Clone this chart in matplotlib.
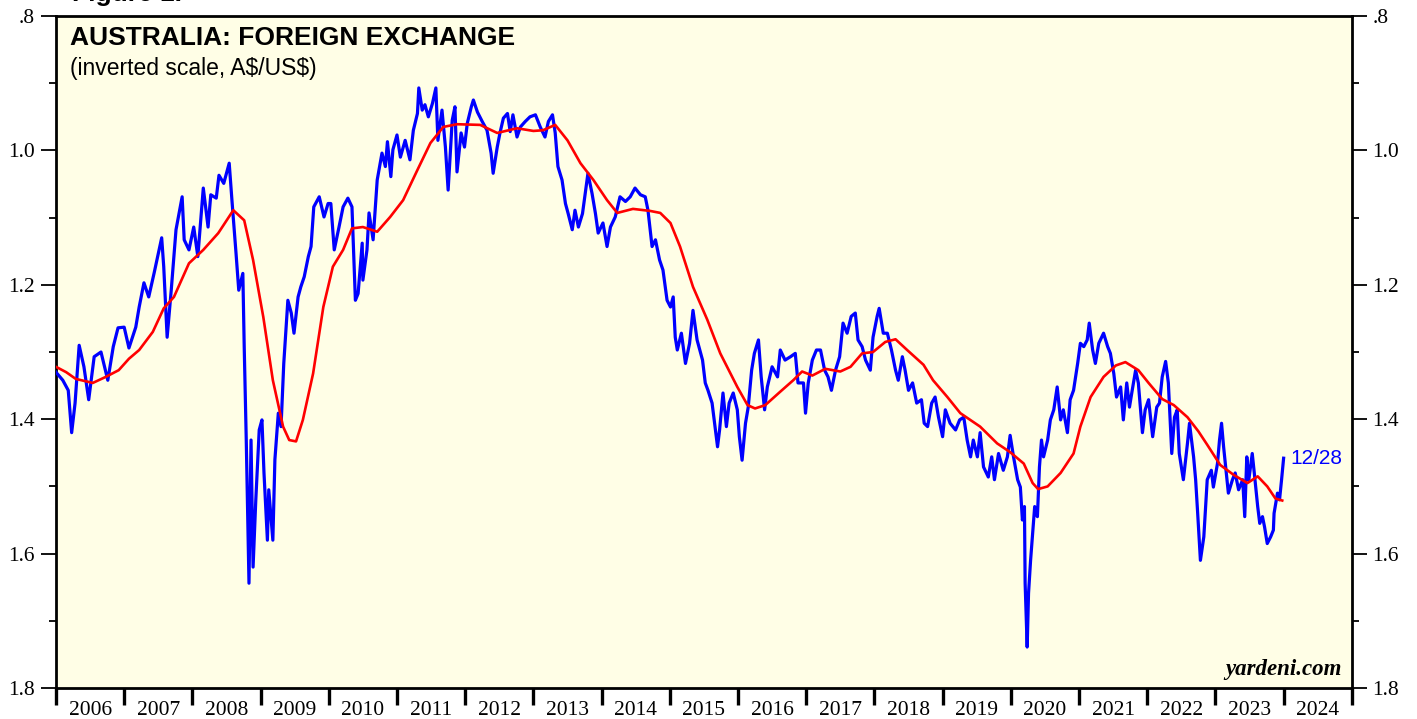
import matplotlib
matplotlib.use("Agg")
import matplotlib.pyplot as plt
from matplotlib.ticker import FixedLocator, NullFormatter

# A$/US$ daily rate, decimal years
fx_dates = [
    2006.00, 2006.10, 2006.18, 2006.23, 2006.28, 2006.34, 2006.41, 2006.48, 2006.56, 2006.66,
    2006.76, 2006.84, 2006.91, 2007.00, 2007.07, 2007.17, 2007.22, 2007.29, 2007.36, 2007.44,
    2007.55, 2007.58, 2007.63, 2007.69, 2007.76, 2007.85, 2007.88, 2007.95, 2008.02, 2008.08,
    2008.16, 2008.23, 2008.27, 2008.35, 2008.39, 2008.46, 2008.54, 2008.58, 2008.64, 2008.68,
    2008.74, 2008.76, 2008.79, 2008.83, 2008.86, 2008.89, 2008.93, 2008.98, 2009.02, 2009.05,
    2009.10, 2009.12, 2009.18, 2009.21, 2009.26, 2009.30, 2009.34, 2009.40, 2009.45, 2009.49,
    2009.55, 2009.59, 2009.64, 2009.70, 2009.74, 2009.78, 2009.86, 2009.93, 2009.99, 2010.03,
    2010.08, 2010.15, 2010.21, 2010.28, 2010.34, 2010.39, 2010.43, 2010.49, 2010.50, 2010.56,
    2010.59, 2010.65, 2010.71, 2010.78, 2010.83, 2010.86, 2010.91, 2010.94, 2011.00, 2011.05,
    2011.12, 2011.19, 2011.24, 2011.30, 2011.32, 2011.37, 2011.41, 2011.46, 2011.52, 2011.57,
    2011.60, 2011.66, 2011.71, 2011.75, 2011.81, 2011.85, 2011.88, 2011.94, 2011.99, 2012.03,
    2012.09, 2012.12, 2012.18, 2012.25, 2012.32, 2012.38, 2012.41, 2012.47, 2012.51, 2012.56,
    2012.62, 2012.66, 2012.70, 2012.76, 2012.81, 2012.88, 2012.95, 2013.03, 2013.10, 2013.17,
    2013.22, 2013.28, 2013.32, 2013.36, 2013.42, 2013.47, 2013.51, 2013.57, 2013.61, 2013.66,
    2013.72, 2013.76, 2013.80, 2013.86, 2013.91, 2013.95, 2014.02, 2014.08, 2014.13, 2014.20,
    2014.27, 2014.35, 2014.42, 2014.49, 2014.57, 2014.64, 2014.68, 2014.74, 2014.79, 2014.85,
    2014.90, 2014.96, 2015.01, 2015.05, 2015.08, 2015.11, 2015.17, 2015.23, 2015.29, 2015.34,
    2015.40, 2015.48, 2015.52, 2015.56, 2015.62, 2015.67, 2015.70, 2015.73, 2015.78, 2015.83,
    2015.87, 2015.93, 2015.99, 2016.02, 2016.06, 2016.11, 2016.15, 2016.20, 2016.24, 2016.30,
    2016.34, 2016.39, 2016.43, 2016.50, 2016.58, 2016.62, 2016.69, 2016.77, 2016.84, 2016.88,
    2016.96, 2016.99, 2017.03, 2017.09, 2017.15, 2017.21, 2017.27, 2017.32, 2017.37, 2017.43,
    2017.49, 2017.54, 2017.60, 2017.66, 2017.72, 2017.76, 2017.82, 2017.87, 2017.94, 2017.98,
    2018.04, 2018.07, 2018.13, 2018.19, 2018.25, 2018.31, 2018.35, 2018.41, 2018.45, 2018.50,
    2018.56, 2018.62, 2018.69, 2018.73, 2018.78, 2018.84, 2018.89, 2018.94, 2019.00, 2019.04,
    2019.11, 2019.19, 2019.25, 2019.31, 2019.36, 2019.41, 2019.45, 2019.51, 2019.55, 2019.60,
    2019.67, 2019.72, 2019.76, 2019.82, 2019.89, 2019.95, 2019.99, 2020.04, 2020.10, 2020.14,
    2020.17, 2020.20, 2020.21, 2020.24, 2020.26, 2020.29, 2020.32, 2020.35, 2020.39, 2020.42,
    2020.45, 2020.48, 2020.54, 2020.58, 2020.63, 2020.68, 2020.73, 2020.77, 2020.83, 2020.87,
    2020.92, 2020.98, 2021.02, 2021.07, 2021.12, 2021.15, 2021.20, 2021.24, 2021.29, 2021.36,
    2021.42, 2021.46, 2021.51, 2021.55, 2021.61, 2021.65, 2021.70, 2021.74, 2021.78, 2021.83,
    2021.87, 2021.93, 2021.97, 2022.02, 2022.08, 2022.14, 2022.18, 2022.22, 2022.27, 2022.31,
    2022.36, 2022.40, 2022.44, 2022.47, 2022.53, 2022.59, 2022.62, 2022.68, 2022.71, 2022.74,
    2022.78, 2022.83, 2022.85, 2022.88, 2022.94, 2022.97, 2023.03, 2023.06, 2023.09, 2023.12,
    2023.16, 2023.19, 2023.25, 2023.29, 2023.34, 2023.40, 2023.43, 2023.46, 2023.49, 2023.54,
    2023.57, 2023.62, 2023.65, 2023.69, 2023.72, 2023.76, 2023.81, 2023.85, 2023.86, 2023.91,
    2023.94, 2023.97, 2024.00,
]
fx_rate = [
    1.330, 1.342, 1.357, 1.420, 1.376, 1.290, 1.322, 1.371, 1.307, 1.300,
    1.342, 1.292, 1.264, 1.263, 1.294, 1.263, 1.233, 1.197, 1.218, 1.182,
    1.130, 1.173, 1.278, 1.208, 1.118, 1.069, 1.133, 1.148, 1.114, 1.158,
    1.056, 1.114, 1.066, 1.071, 1.037, 1.049, 1.019, 1.074, 1.153, 1.208,
    1.183, 1.292, 1.431, 1.644, 1.431, 1.620, 1.520, 1.416, 1.401, 1.480,
    1.580, 1.505, 1.580, 1.460, 1.391, 1.411, 1.317, 1.223, 1.242, 1.272,
    1.218, 1.203, 1.188, 1.158, 1.143, 1.084, 1.069, 1.099, 1.079, 1.079,
    1.148, 1.114, 1.084, 1.071, 1.084, 1.223, 1.213, 1.138, 1.193, 1.148,
    1.093, 1.133, 1.044, 1.004, 1.024, 0.987, 1.039, 0.999, 0.977, 1.010,
    0.985, 1.014, 0.970, 0.945, 0.907, 0.940, 0.932, 0.950, 0.930, 0.907,
    0.985, 0.940, 0.995, 1.059, 0.955, 0.935, 1.032, 0.974, 0.995, 0.960,
    0.935, 0.925, 0.943, 0.957, 0.970, 1.004, 1.034, 0.995, 0.974, 0.952,
    0.945, 0.972, 0.947, 0.980, 0.965, 0.957, 0.950, 0.947, 0.965, 0.980,
    0.957, 0.947, 0.974, 1.024, 1.044, 1.079, 1.094, 1.118, 1.089, 1.114,
    1.094, 1.064, 1.034, 1.064, 1.094, 1.123, 1.108, 1.143, 1.114, 1.099,
    1.069, 1.076, 1.069, 1.056, 1.066, 1.069, 1.089, 1.143, 1.133, 1.163,
    1.178, 1.223, 1.233, 1.218, 1.278, 1.297, 1.272, 1.317, 1.287, 1.238,
    1.282, 1.312, 1.346, 1.357, 1.376, 1.416, 1.441, 1.416, 1.361, 1.411,
    1.376, 1.361, 1.386, 1.426, 1.461, 1.406, 1.382, 1.327, 1.302, 1.282,
    1.337, 1.386, 1.352, 1.322, 1.337, 1.297, 1.312, 1.307, 1.302, 1.346,
    1.346, 1.391, 1.346, 1.312, 1.297, 1.297, 1.327, 1.337, 1.357, 1.327,
    1.307, 1.257, 1.272, 1.247, 1.242, 1.282, 1.292, 1.312, 1.327, 1.278,
    1.247, 1.235, 1.272, 1.272, 1.297, 1.327, 1.342, 1.307, 1.327, 1.357,
    1.346, 1.376, 1.371, 1.406, 1.411, 1.376, 1.367, 1.397, 1.426, 1.386,
    1.406, 1.416, 1.401, 1.397, 1.431, 1.456, 1.431, 1.456, 1.420, 1.471,
    1.486, 1.456, 1.490, 1.451, 1.476, 1.456, 1.424, 1.456, 1.490, 1.501,
    1.550, 1.530, 1.644, 1.739, 1.659, 1.610, 1.570, 1.530, 1.545, 1.471,
    1.431, 1.456, 1.431, 1.401, 1.386, 1.352, 1.401, 1.386, 1.420, 1.371,
    1.357, 1.317, 1.287, 1.292, 1.282, 1.257, 1.297, 1.317, 1.287, 1.272,
    1.292, 1.302, 1.332, 1.367, 1.352, 1.401, 1.346, 1.382, 1.357, 1.327,
    1.346, 1.420, 1.386, 1.371, 1.426, 1.382, 1.376, 1.337, 1.314, 1.346,
    1.451, 1.397, 1.386, 1.451, 1.490, 1.436, 1.406, 1.456, 1.490, 1.540,
    1.610, 1.575, 1.540, 1.490, 1.476, 1.501, 1.466, 1.431, 1.406, 1.441,
    1.480, 1.510, 1.490, 1.480, 1.505, 1.490, 1.545, 1.456, 1.490, 1.451,
    1.480, 1.530, 1.555, 1.545, 1.560, 1.585, 1.575, 1.565, 1.540, 1.510,
    1.520, 1.490, 1.458,
]

# moving average (red line)
ma_dates = [
    2006.00, 2006.15, 2006.29, 2006.54, 2006.73, 2006.92, 2007.07, 2007.22, 2007.42, 2007.58,
    2007.73, 2007.95, 2008.16, 2008.38, 2008.60, 2008.76, 2008.89, 2009.04, 2009.18, 2009.33,
    2009.42, 2009.52, 2009.62, 2009.77, 2009.92, 2010.06, 2010.21, 2010.34, 2010.50, 2010.71,
    2010.90, 2011.09, 2011.30, 2011.49, 2011.68, 2011.88, 2012.22, 2012.47, 2012.76, 2013.00,
    2013.14, 2013.32, 2013.50, 2013.69, 2013.88, 2014.08, 2014.23, 2014.46, 2014.71, 2014.86,
    2015.01, 2015.15, 2015.34, 2015.55, 2015.74, 2015.99, 2016.14, 2016.25, 2016.40, 2016.62,
    2016.81, 2016.94, 2017.09, 2017.28, 2017.50, 2017.65, 2017.82, 2017.98, 2018.16, 2018.31,
    2018.48, 2018.72, 2018.86, 2019.07, 2019.26, 2019.55, 2019.80, 2019.99, 2020.19, 2020.32,
    2020.40, 2020.54, 2020.73, 2020.92, 2021.02, 2021.17, 2021.36, 2021.54, 2021.68, 2021.87,
    2022.02, 2022.22, 2022.39, 2022.59, 2022.75, 2022.88, 2023.07, 2023.27, 2023.47, 2023.62,
    2023.76, 2023.88, 2023.98,
]
ma_rate = [
    1.322, 1.330, 1.340, 1.346, 1.337, 1.327, 1.310, 1.297, 1.270, 1.235,
    1.218, 1.168, 1.148, 1.123, 1.089, 1.104, 1.163, 1.248, 1.342, 1.411,
    1.431, 1.433, 1.401, 1.332, 1.233, 1.173, 1.148, 1.116, 1.114, 1.121,
    1.099, 1.074, 1.029, 0.989, 0.965, 0.961, 0.962, 0.974, 0.967, 0.971,
    0.970, 0.962, 0.985, 1.019, 1.044, 1.074, 1.093, 1.087, 1.090, 1.093,
    1.108, 1.143, 1.203, 1.252, 1.302, 1.352, 1.379, 1.384, 1.379, 1.359,
    1.342, 1.329, 1.335, 1.325, 1.329, 1.322, 1.302, 1.300, 1.285, 1.281,
    1.297, 1.319, 1.342, 1.367, 1.391, 1.411, 1.436, 1.449, 1.466, 1.495,
    1.504, 1.500, 1.480, 1.451, 1.411, 1.367, 1.337, 1.320, 1.315, 1.327,
    1.346, 1.370, 1.379, 1.397, 1.418, 1.438, 1.468, 1.483, 1.495, 1.485,
    1.500, 1.518, 1.521,
]

years = list(range(2006, 2026))
year_labels = [str(y) for y in range(2006, 2025)]
y_major = [0.8, 1.0, 1.2, 1.4, 1.6, 1.8]
y_major_labels = [".8", "1.0", "1.2", "1.4", "1.6", "1.8"]
y_minor = [0.9, 1.1, 1.3, 1.5, 1.7]

fig = plt.figure(figsize=(14.17, 7.19), dpi=100)
ax = fig.add_axes([0.0395, 0.0431, 0.9145, 0.9346])
ax.set_facecolor("#fffee6")

ax.plot(fx_dates, fx_rate, color="#0000ff", lw=2.3, zorder=3)
ax.plot(ma_dates, ma_rate, color="#ff0000", lw=1.9, zorder=4)

ax.set_xlim(2006, 2025)
ax.set_ylim(1.8, 0.8)  # inverted scale

for s in ax.spines.values():
    s.set_linewidth(2.0)
    s.set_color("black")

serif = "Liberation Serif"
ax.set_yticks(y_major)
ax.set_yticklabels(y_major_labels, family=serif, fontsize=15.5)
ax.yaxis.set_minor_locator(FixedLocator(y_minor))
ax.tick_params(axis="y", which="major", direction="out", length=11, width=1.3,
               left=True, right=True, labelleft=True, labelright=True, pad=4)
ax.tick_params(axis="y", which="minor", direction="out", length=5, width=1.3,
               left=True, right=True)
for lab in ax.get_yticklabels():
    lab.set_family(serif)

# year boundaries as ticks, labels centred in between
ax.set_xticks(years)
ax.xaxis.set_major_formatter(NullFormatter())
ax.xaxis.set_minor_locator(FixedLocator([y + 0.5 for y in range(2006, 2025)]))
ax.set_xticklabels(year_labels, minor=True, family=serif, fontsize=15.5)
ax.tick_params(axis="x", which="major", direction="out", length=12, width=2.4)
ax.tick_params(axis="x", which="minor", length=0, pad=9)

ax.text(0.011, 0.985, "AUSTRALIA: FOREIGN EXCHANGE", transform=ax.transAxes,
        family="Liberation Sans", fontsize=19, fontweight="bold", va="top")
ax.text(0.011, 0.939, "(inverted scale, A\\$/US\\$)", transform=ax.transAxes,
        family="Liberation Sans", fontsize=16.5, va="top")
ax.text(0.992, 0.012, "yardeni.com", transform=ax.transAxes, family=serif,
        fontsize=16.5, fontweight="bold", style="italic", ha="right", va="bottom")
ax.annotate("12/28", xy=(fx_dates[-1], fx_rate[-1]), xytext=(5, 0),
            textcoords="offset points", color="#0000ff", fontsize=15,
            family="Liberation Sans", va="center")

# chart caption cut off at the top edge of the picture
fig.text(0.051, 1.0 - 1.5 / 719, "Figure 1.", family="Liberation Sans", fontsize=19,
         fontweight="bold", va="baseline")

fig.savefig("out.png", dpi=100)
